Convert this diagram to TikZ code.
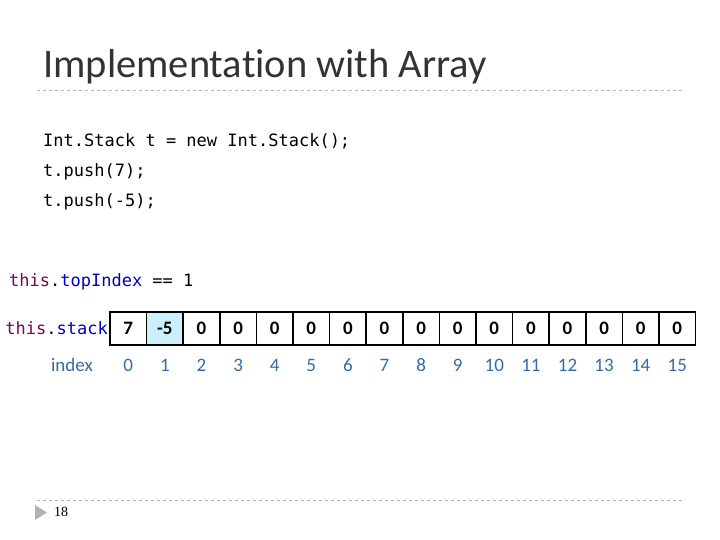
\documentclass[tikz,border=0pt]{standalone}
\usepackage{fontspec}
\setmainfont[RawFeature=-liga]{Carlito}
\setmonofont{DejaVu Sans Mono}
\newfontfamily\pagefont{Liberation Serif}
\begin{document}
\begin{tikzpicture}[x=1pt,y=-1pt,
  cell/.style={draw,line width=1.6pt,minimum width=36.6pt,minimum height=33pt,inner sep=0pt,font=\fontsize{19}{20}\selectfont\bfseries},
  idx/.style={text=cyan!50!blue!80!black,font=\fontsize{19}{20}\selectfont},
  code/.style={anchor=base west,inner sep=0pt,font=\ttfamily\fontsize{17}{18}\selectfont},
  sep/.style={draw=gray!60,dashed,line width=0.6pt}]
\useasboundingbox (0,0) rectangle (720,540);
\node[anchor=base west,inner sep=0pt,font=\fontsize{40.5}{44}\selectfont,text=black!80] (title) at (43,78) {Implementation with Array};
\coordinate (l1a) at (37,90); \coordinate (l1b) at (685,90);
\draw[sep] (l1a) -- (l1b);
\node[code] (c1) at (43,147) {Int.Stack t = new Int.Stack();};
\node[code] (c2) at (43,177) {t.push(7);};
\node[code] (c3) at (43,207) {t.push(-5);};
\node[code] (top) at (9,286) {\textcolor[HTML]{7F0055}{this}.\textcolor[HTML]{0000C0}{topIndex} == 1};
\node[code,anchor=base east] (st) at (108,334) {\textcolor[HTML]{7F0055}{this}.\textcolor[HTML]{0000C0}{stack}};
\foreach \v [count=\i from 0] in {7,-5,0,0,0,0,0,0,0,0,0,0,0,0,0,0}{
  \pgfmathsetmacro{\cx}{128.3+36.6*\i}
  \ifnum\i=1
    \node[cell,fill=cyan!20] (a\i) at (\cx,328.5) {\v};
  \else
    \node[cell] (a\i) at (\cx,328.5) {\v};
  \fi
  \node[idx] (i\i) at (\cx,365) {\i};
}
\node[idx] (ilabel) at (72,365) {index};
\coordinate (l2a) at (37,500); \coordinate (l2b) at (685,500);
\draw[sep] (l2a) -- (l2b);
\fill[gray!60] (35,505) -- (47,512.5) -- (35,520) -- cycle;
\node[font=\pagefont\fontsize{14}{15}\selectfont,anchor=west,inner sep=0pt] (pg) at (54,512) {18};
\end{tikzpicture}
\end{document}
